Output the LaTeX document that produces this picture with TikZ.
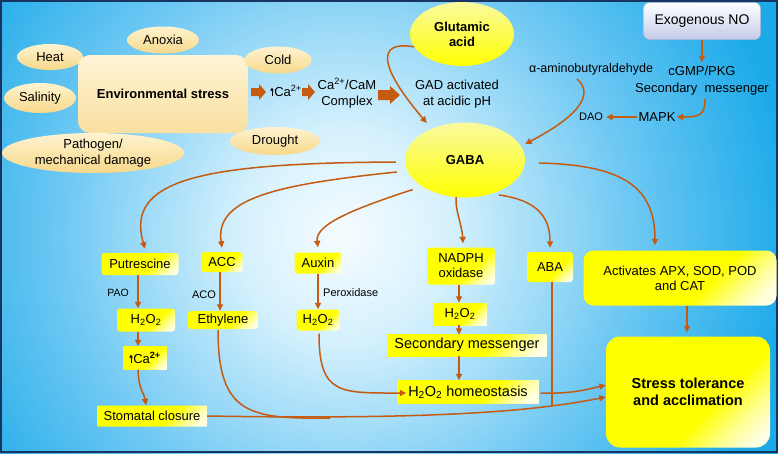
\documentclass[tikz,border=0pt]{standalone}
\usepackage{fontspec}
\setmainfont{Liberation Sans}
\usetikzlibrary{shapes.geometric,arrows.meta,calc}
\definecolor{arrC}{RGB}{197,90,17}
\definecolor{frameC}{RGB}{24,52,96}
\definecolor{bg0}{RGB}{246,252,255}
\definecolor{bg1}{RGB}{214,241,253}
\definecolor{bg2}{RGB}{110,200,243}
\definecolor{bg3}{RGB}{28,170,233}
\definecolor{tanT}{RGB}{254,243,208}
\definecolor{tanB}{RGB}{247,216,138}
\definecolor{envT}{RGB}{254,244,214}
\definecolor{envB}{RGB}{250,224,160}
\definecolor{glT}{RGB}{250,250,160}
\definecolor{noB}{RGB}{196,203,232}
\definecolor{noD}{RGB}{170,180,215}
\definecolor{yl}{RGB}{255,255,0}
\definecolor{ylw}{RGB}{255,255,150}
\definecolor{ylww}{RGB}{255,255,225}
\pgfdeclareradialshading{bgshade}{\pgfpoint{0bp}{0bp}}{color(0bp)=(bg0); color(4.2bp)=(bg1); color(11.5bp)=(bg2); color(18bp)=(bg3); color(50bp)=(bg3)}
\pgfdeclarehorizontalshading{yshade}{100bp}{color(0bp)=(yl); color(60bp)=(yl); color(72bp)=(ylw); color(80bp)=(ylww); color(100bp)=(ylww)}
\newcommand{\setfs}[2]{\fontsize{#1}{#2}\selectfont}
\newcommand{\uparr}{\tikz[baseline=0pt]\draw[draw=black, line width=.7pt,-{Triangle[length=3pt,width=3.5pt]}] (0pt,0pt) -- (0pt,8.5pt);\hspace{0.5pt}}
\tikzset{
  tan/.style={ellipse, top color=tanT, bottom color=tanB, draw=none, inner sep=0pt, align=center},
  ybox/.style={rectangle, rounded corners=3pt, shade, shading=yshade, shading angle=-45, inner sep=0pt, align=center},
  conn/.style={draw=arrC, line width=1.5pt, -{Triangle[length=6.5pt,width=6pt]}},
  plain/.style={draw=arrC, line width=1.5pt},
  lbl/.style={inner sep=1pt, align=center},
  blk/.style={fill=arrC, draw=none},
}
\begin{document}
\begin{tikzpicture}[x=1pt, y=-1pt, font=\setfs{13}{15}]
\useasboundingbox (0,0) rectangle (778,453);
\begin{scope}
  \clip (0,0) rectangle (778,453);
  \shade[shading=bgshade] (345,235) circle (620);
\end{scope}
\draw[frameC, line width=2pt] (1,1) rectangle (777,452);

% stress sources
\node[tan, minimum width=66pt, minimum height=26pt] (heat) at (50,57) {Heat};
\node[tan, minimum width=72pt, minimum height=30pt] (salinity) at (40,98) {Salinity};
\node[rectangle, rounded corners=12pt, top color=envT, bottom color=envB, minimum width=170pt, minimum height=78pt, font=\setfs{13}{15}\bfseries] (env) at (163,94) {Environmental stress};
\node[tan, minimum width=72pt, minimum height=27pt] (anoxia) at (163,40) {Anoxia};
\node[tan, minimum width=67pt, minimum height=27pt] (cold) at (278,60) {Cold};
\node[tan, minimum width=90pt, minimum height=28pt] (drought) at (275,141) {Drought};
\node[tan, minimum width=182pt, minimum height=40pt, font=\setfs{13}{16}] (pathogen) at (93,153) {Pathogen/\\mechanical damage};

% calcium chain
\fill[blk] (251,88) -- (259,88) -- (259,84) -- (266,92) -- (259,100) -- (259,96) -- (251,96) -- cycle;
\node[lbl] (ca1) at (286,91) {\uparr Ca\textsuperscript{2+}};
\fill[blk] (302,88) -- (308,88) -- (308,84) -- (315,92) -- (308,100) -- (308,96) -- (302,96) -- cycle;
\node[lbl, font=\setfs{13}{16}] (cam) at (347,93) {Ca\textsuperscript{2+}/CaM\\Complex};
\fill[blk] (378,90) -- (390,90) -- (390,86) -- (400,95) -- (390,104) -- (390,100) -- (378,100) -- cycle;

% top centre
\node[ellipse, top color=glT, bottom color=yl, inner sep=0pt, minimum width=104pt, minimum height=64pt, font=\setfs{13}{15}\bfseries, align=center] (glu) at (462,34) {Glutamic\\acid};
\node[lbl, font=\setfs{13}{16}] (gad) at (457,94) {GAD activated\\at acidic pH};
\node[ellipse, top color=glT, bottom color=yl, inner sep=0pt, minimum width=120pt, minimum height=75pt, font=\setfs{13}{15}\bfseries] (gaba) at (465,160) {GABA};
\node[lbl, font=\setfs{12.5}{15}] (alpha) at (591,69) {α-aminobutyraldehyde};

% NO branch
\node[rectangle, rounded corners=6pt, top color=white, bottom color=noB, draw=noD, line width=.5pt, minimum width=117pt, minimum height=37pt, font=\setfs{14}{16}] (exo) at (702,21) {Exogenous NO};
\node[lbl, font=\setfs{13}{17}] (cgmp) at (702,81) {cGMP/PKG\\Secondary~~messenger};
\node[lbl] (mapk) at (657,117) {MAPK};
\node[lbl, font=\setfs{11}{13}] (dao) at (591,117) {DAO};

% lower boxes
\node[ybox, minimum width=77pt, minimum height=22pt] (puts) at (140,264) {Putrescine};
\node[ybox, minimum width=41pt, minimum height=20pt] (acc) at (222,262) {ACC};
\node[ybox, minimum width=47pt, minimum height=21pt] (auxin) at (318,263) {Auxin};
\node[ybox, minimum width=68pt, minimum height=37pt] (nadph) at (461,266) {NADPH\\oxidase};
\node[ybox, minimum width=46pt, minimum height=30pt] (aba) at (550,267) {ABA};
\node[ybox, rounded corners=10pt, minimum width=193pt, minimum height=55pt] (act) at (680,278) {Activates APX, SOD, POD\\and CAT};

\node[ybox, minimum width=58pt, minimum height=23pt] (pH) at (146,320) {H\textsubscript{2}O\textsubscript{2}};
\node[ybox, minimum width=70pt, minimum height=18pt] (eth) at (223,320) {Ethylene};
\node[ybox, minimum width=43pt, minimum height=21pt] (aH) at (318,320) {H\textsubscript{2}O\textsubscript{2}};
\node[ybox, rounded corners=0pt, minimum width=53pt, minimum height=22pt] (nH) at (460,314) {H\textsubscript{2}O\textsubscript{2}};
\node[ybox, rounded corners=0pt, minimum width=43pt, minimum height=23pt] (ca) at (145,358) {\uparr Ca\textsuperscript{\bfseries 2+}};
\node[ybox, rounded corners=0pt, minimum width=159pt, minimum height=22pt, font=\setfs{14.5}{16}] (secm) at (467,345) {Secondary messenger};
\node[ybox, rounded corners=0pt, minimum width=141pt, minimum height=23pt, font=\setfs{14.5}{16}] (homeo) at (468,392) {H\textsubscript{2}O\textsubscript{2} homeostasis};
\node[ybox, rounded corners=1pt, minimum width=110pt, minimum height=21pt] (stom) at (152,416) {Stomatal closure};
\node[ybox, rounded corners=14pt, minimum width=164pt, minimum height=111pt, font=\setfs{14.5}{17}\bfseries] (stress) at (688,392) {Stress tolerance\\and acclimation};

% small labels
\node[lbl, font=\setfs{10.5}{12}] (pao) at (118,293) {PAO};
\node[lbl, font=\setfs{11}{12}] (aco) at (204,295) {ACO};
\node[lbl, font=\setfs{11}{12}, anchor=west] (perox) at (322,293) {Peroxidase};

% connectors: top
\draw[conn] (glu.195) .. controls (375,40) and (380,68) .. ($(gaba.west)+(22,-37)$);
\draw[conn] ($(alpha.south)+(-14,3)$) .. controls (590,90) and (590,110) .. ($(gaba.east)+(0,-16)$);
\draw[conn] (exo.south) -- ($(cgmp.north)+(0,-3)$);
\draw[conn] ($(cgmp.south)+(3,2)$) .. controls (705,115) and (700,117) .. (mapk.east);
\draw[conn] (mapk.west) -- ([xshift=2pt]dao.east);

% connectors: GABA fan
\draw[conn] ($(gaba.west)+(-9,2)$) .. controls (200,163) and (125,180) .. ([xshift=5pt,yshift=4pt]puts.north);
\draw[conn] ($(gaba.west)+(-8,12)$) .. controls (270,185) and (215,200) .. ([yshift=4pt]acc.north);
\draw[conn] ($(gaba.210)+(-8,4)$) .. controls (350,210) and (315,225) .. ([yshift=5pt]auxin.north);
\draw[conn] ($(gaba.255)+(1,0)$) .. controls (455,210) and (462,225) .. ([xshift=2pt,yshift=4pt]nadph.north);
\draw[conn] ($(gaba.315)+(2,3)$) .. controls (535,200) and (550,215) .. ([yshift=4pt]aba.north);
\draw[conn] ($(gaba.east)+(14,3)$) .. controls (620,165) and (655,185) .. ([xshift=-25pt,yshift=5pt]act.north);

% columns
\coordinate (pc) at (138,0);
\draw[conn] (puts.south -| pc) -- (pH.north -| pc);
\draw[conn] (pH.south -| pc) -- (ca.north -| pc);
\draw[conn] (ca.south -| pc) .. controls (139,392) and (144,392) .. ([xshift=-6pt]stom.north);
\coordinate (ac) at (220,0);
\draw[conn] (acc.south -| ac) -- (eth.north -| ac);
\coordinate (xc) at (318,0);
\draw[conn] (auxin.south -| xc) -- (aH.north -| xc);
\coordinate (nc) at (459,0);
\draw[conn] (nadph.south -| nc) -- (nH.north -| nc);
\draw[conn] (nH.south -| nc) -- ([yshift=-1pt]secm.north -| nc);
\draw[conn] (secm.south -| nc) -- (homeo.north -| nc);
\coordinate (tc) at (687,0);
\draw[conn] (act.south -| tc) -- ([yshift=4pt]stress.north -| tc);

% into stress / homeostasis
\draw[conn] ($(aH.south)+(1,3)$) .. controls (319,395) and (340,393) .. ($(homeo.west)+(9,1)$);
\draw[conn] ($(homeo.east)+(2,1)$) .. controls (570,394) and (585,390) .. ($(stress.west)+(0,-7)$);
\draw[conn] (stom.east) .. controls (450,420) and (540,410) .. ($(stress.west)+(0,5)$);
\coordinate (emerge) at (330,418);
\draw[plain] ($(eth.south)+(-5,1)$) .. controls (218,415) and (250,419) .. (emerge);
\coordinate (bc) at (552,0);
\coordinate (amerge) at (552,406);
\draw[plain] (aba.south -| bc) -- (amerge);
\end{tikzpicture}
\end{document}
